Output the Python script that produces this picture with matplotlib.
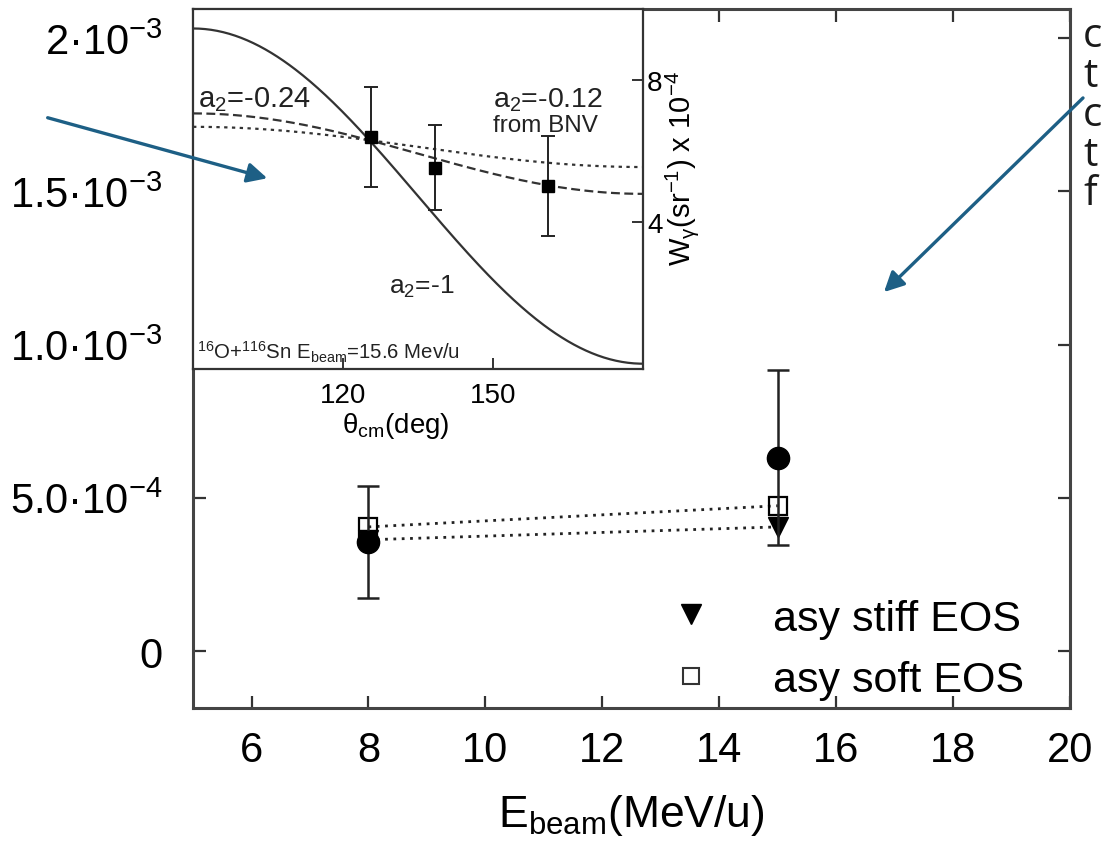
import numpy as np
import matplotlib.pyplot as plt
from matplotlib.lines import Line2D
from matplotlib.patches import FancyArrowPatch

plt.rcParams['font.family'] = ['Liberation Sans', 'DejaVu Sans']
plt.rcParams['mathtext.fontset'] = 'custom'
plt.rcParams['mathtext.rm'] = 'Liberation Sans'
plt.rcParams['mathtext.it'] = 'Liberation Sans:italic'
plt.rcParams['mathtext.default'] = 'regular'

# --- main panel: dipole emission vs beam energy ---
e_beam = [8, 15]
w_exp = [3.56e-4, 6.31e-4]
w_exp_err = [1.83e-4, 2.85e-4]
w_stiff = [3.63e-4, 4.05e-4]
w_soft = [4.05e-4, 4.74e-4]

y_ticks = [0, 5e-4, 1e-3, 1.5e-3, 2e-3]
y_labels = ['0', '5.0·10$^{-4}$', '1.0·10$^{-3}$', '1.5·10$^{-3}$', '2·10$^{-3}$']
x_ticks = [6, 8, 10, 12, 14, 16, 18, 20]

# --- inset: angular distribution ---
theta_pts = [125.5, 138.3, 161.0]
w_pts = [6.39, 5.52, 5.01]
w_pts_err = [1.42, 1.20, 1.40]
a2_values = [-1.0, -0.24, -0.12]
w_norm = 6.3

fig = plt.figure(figsize=(11.05, 8.45), dpi=100)
ax = fig.add_axes([0.1747, 0.1609, 0.7936, 0.8273])

dark = '#222222'
ax.plot(e_beam, w_soft, linestyle=(0, (1, 2)), color=dark, lw=2)
ax.plot(e_beam, w_stiff, linestyle=(0, (1, 2)), color=dark, lw=2)
ax.plot(e_beam, w_soft, 's', ms=13, mfc='none', mec='black', mew=1.6, zorder=3)
ax.plot(e_beam, w_stiff, 'v', ms=14, color='black', zorder=3)
ax.errorbar(e_beam, w_exp, yerr=w_exp_err, fmt='o', ms=16, color='black',
            ecolor=dark, elinewidth=1.8, capsize=8, capthick=1.8, zorder=4)

ax.set_xlim(5, 20)
ax.set_ylim(-1.86e-4, 2.095e-3)
ax.set_xticks(x_ticks)
ax.set_yticks(y_ticks)
ax.set_yticklabels(y_labels)
ax.tick_params(direction='in', length=9, width=1.6, labelsize=30, color='#333333',
               top=True, right=True)
ax.tick_params(axis='x', pad=16)
ax.tick_params(axis='y', pad=22)
for s in ax.spines.values():
    s.set_linewidth(2.2)
    s.set_color('#444444')
ax.set_xlabel('E$_{beam}$(MeV/u)', fontsize=32, labelpad=16)

handles = [Line2D([], [], marker='v', ls='none', ms=14, color='black'),
           Line2D([], [], marker='s', ls='none', ms=11, mfc='none', mec='#333333', mew=1.5)]
ax.legend(handles, ['asy stiff EOS', 'asy soft EOS'], loc='center left',
          bbox_to_anchor=(0.543, 0.084), frameon=False, fontsize=31,
          handlelength=1.0, handletextpad=1.4, labelspacing=0.5,
          borderpad=0, borderaxespad=0)

# --- inset axes ---
ax_in = fig.add_axes([0.1747, 0.5621, 0.4072, 0.4261])
theta = np.linspace(90, 180, 300)
p2 = (3 * np.cos(np.radians(theta)) ** 2 - 1) / 2
styles = ['-', (0, (4, 2)), (0, (1.5, 2))]
for a2, ls in zip(a2_values, styles):
    ax_in.plot(theta, w_norm * (1 + a2 * p2), ls=ls, color='#333333', lw=1.6)
ax_in.errorbar(theta_pts, w_pts, yerr=w_pts_err, fmt='s', ms=9, color='black',
               ecolor='#222222', elinewidth=1.4, capsize=5, capthick=1.4, zorder=4)

ax_in.set_xlim(90, 180)
ax_in.set_ylim(-0.15, 10)
ax_in.set_xticks([120, 150])
ax_in.set_yticks([4, 8])
ax_in.yaxis.tick_right()
ax_in.tick_params(direction='in', length=8, width=1.3, labelsize=20, color='#222222')
ax_in.tick_params(axis='x', pad=9)
ax_in.tick_params(axis='y', pad=3)
for s in ax_in.spines.values():
    s.set_linewidth(1.6)
    s.set_color('#333333')
ax_in.set_xlabel('θ$_{cm}$(deg)', fontsize=20)
ax_in.xaxis.set_label_coords(0.45, -0.115)
ax_in.yaxis.set_label_position('right')
ax_in.set_ylabel('W$_γ$(sr$^{-1}$) x 10$^{-4}$', fontsize=21, rotation=90)
ax_in.yaxis.set_label_coords(1.045, 0.56)

txt = dict(transform=ax_in.transAxes, color='#222222', va='center')
ax_in.text(0.011, 0.75, 'a$_2$=-0.24', fontsize=21, **txt)
ax_in.text(0.667, 0.75, 'a$_2$=-0.12', fontsize=20.5, **txt)
ax_in.text(0.667, 0.678, 'from BNV', fontsize=17.5, **txt)
ax_in.text(0.435, 0.23, 'a$_2$=-1', fontsize=19, **txt)
ax_in.text(0.009, 0.05, '$^{16}$O+$^{116}$Sn E$_{beam}$=15.6 Mev/u', fontsize=14.7, **txt)

# --- pointer arrows and side text ---
W, H = 1105, 845
blue = '#1d5f85'
for (x0, y0), (x1, y1) in [((45, 118), (270, 180)), ((1085, 97), (882, 295))]:
    fig.add_artist(FancyArrowPatch((x0 / W, 1 - y0 / H), (x1 / W, 1 - y1 / H),
                                   transform=fig.transFigure, arrowstyle='-|>',
                                   mutation_scale=30, color=blue, lw=2.4))

for i, ch in enumerate(['c', 't', 'c', 't', 'f']):
    fig.text(1083 / W, 1 - (37 + 39.5 * i) / H, ch, fontsize=29, family='Open Sans',
             color='#1a1a1a', va='center', ha='left')

fig.savefig('out.png', dpi=100)
